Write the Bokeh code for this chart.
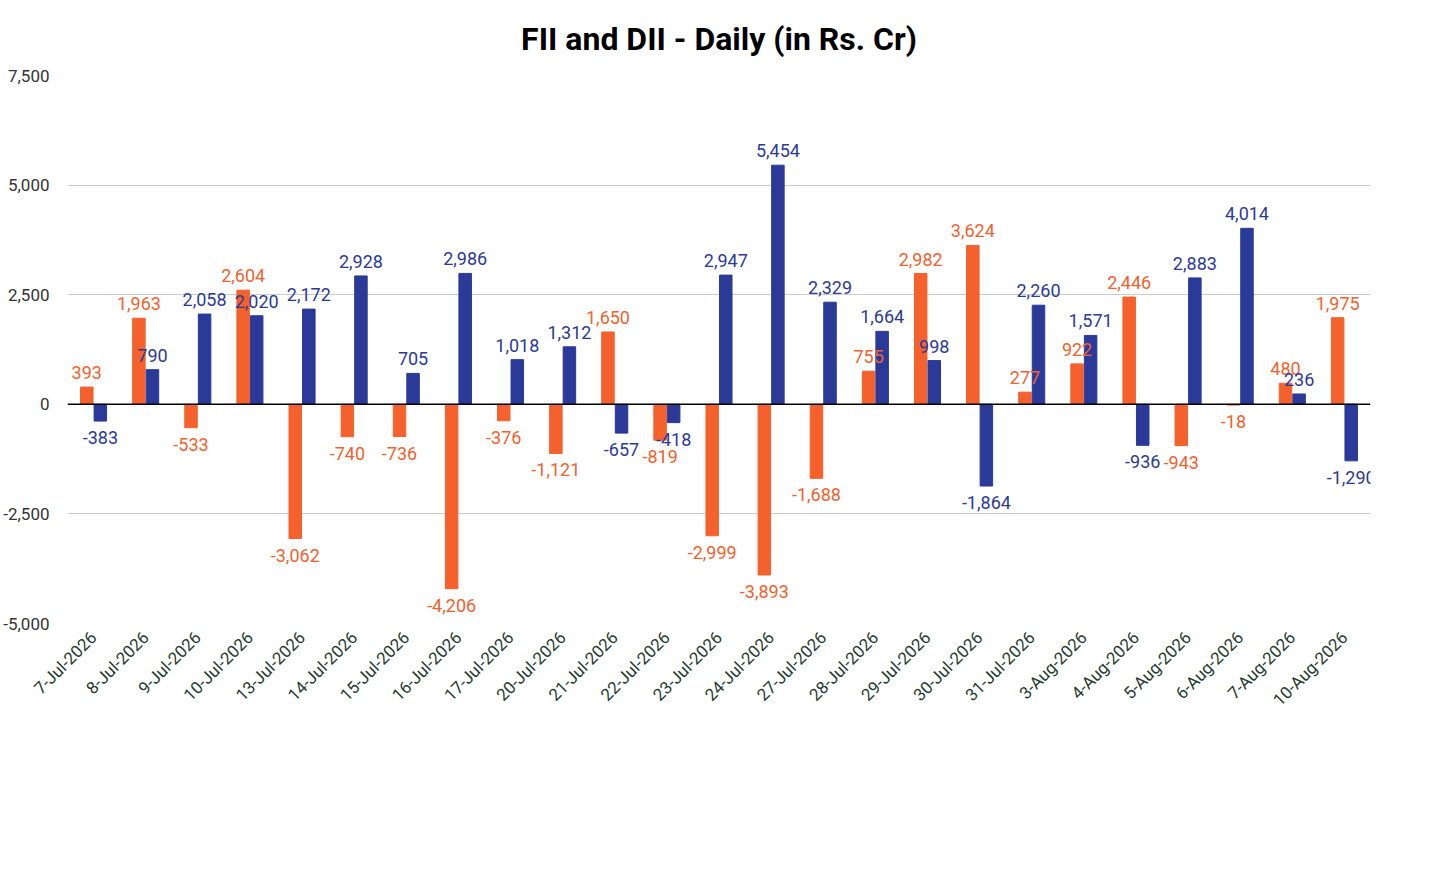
from bokeh.plotting import figure
from bokeh.models import ColumnDataSource, FactorRange, NumeralTickFormatter, Span, Legend, LegendItem, Range1d
from bokeh.transform import dodge
from bokeh.core.properties import value
from bokeh.embed import file_html
from bokeh.resources import INLINE
import math

dates = ["7-Jul-2026","8-Jul-2026","9-Jul-2026","10-Jul-2026","13-Jul-2026","14-Jul-2026","15-Jul-2026",
         "16-Jul-2026","17-Jul-2026","20-Jul-2026","21-Jul-2026","22-Jul-2026","23-Jul-2026","24-Jul-2026",
         "27-Jul-2026","28-Jul-2026","29-Jul-2026","30-Jul-2026","31-Jul-2026","3-Aug-2026","4-Aug-2026",
         "5-Aug-2026","6-Aug-2026","7-Aug-2026","10-Aug-2026"]
fii = [393,1963,-533,2604,-3062,-740,-736,-4206,-376,-1121,1650,-819,-2999,-3893,-1688,755,2982,3624,277,922,2446,-943,-18,480,1975]
dii = [-383,790,2058,2020,2172,2928,705,2986,1018,1312,-657,-418,2947,5454,2329,1664,998,-1864,2260,1571,-936,2883,4014,236,-1290]

FC = "#F4612C"
DC = "#2B3A99"

def src(vals):
    return ColumnDataSource(dict(
        date=dates, v=vals,
        lab=[f"{x:,}" for x in vals],
        off=[-8 if x >= 0 else 10 for x in vals],
        base=["bottom" if x >= 0 else "top" for x in vals]))

sf, sd = src(fii), src(dii)

p = figure(frame_width=1303, frame_height=548, x_range=FactorRange(*dates), y_range=Range1d(-5000, 7500),
           output_backend="svg", toolbar_location=None,
           min_border_left=40, min_border_right=35, min_border_top=20, min_border_bottom=10)
p.title.text = "FII and DII - Daily (in Rs. Cr)"
p.title.align = "center"
p.title.text_font = "Roboto"
p.title.text_font_size = "32px"
p.title.text_font_style = "bold"
p.title.text_color = "#000000"
p.title.standoff = 35

r1 = p.vbar(x=dodge("date", -0.13, range=p.x_range), top="v", width=0.24, source=sf, color=FC)
r2 = p.vbar(x=dodge("date", 0.13, range=p.x_range), top="v", width=0.24, source=sd, color=DC)
for s, c, d in ((sf, FC, -0.13), (sd, DC, 0.13)):
    p.text(x=dodge("date", d, range=p.x_range), y="v", text="lab", y_offset="off", text_baseline="base",
           text_align="center", text_color=c, text_font=value("Roboto"), text_font_size="18px", source=s)

p.add_layout(Span(location=0, dimension="width", line_color="black", line_width=1.5))
p.yaxis.ticker = [-5000, -2500, 0, 2500, 5000, 7500]
p.yaxis.formatter = NumeralTickFormatter(format="0,0")
p.yaxis.major_label_text_font_size = "17px"
p.yaxis.major_label_text_color = "#333333"
p.yaxis.major_label_standoff = 12
p.xaxis.major_label_orientation = math.pi / 4
p.xaxis.major_label_text_font_size = "17px"
p.xaxis.major_label_text_color = "#1f3b2f"
for ax in (p.xaxis, p.yaxis):
    ax.axis_line_color = None
    ax.major_tick_line_color = None
    ax.minor_tick_line_color = None
    ax.major_label_text_font = "Roboto"
p.xgrid.grid_line_color = None
p.ygrid.grid_line_color = "#cccccc"
p.outline_line_color = None

leg = Legend(items=[LegendItem(label="FII", renderers=[r1]), LegendItem(label="DII", renderers=[r2])],
             orientation="horizontal", location="center", label_text_font="Roboto",
             label_text_font_size="28px", border_line_color=None, glyph_width=20, glyph_height=20,
             spacing=25, margin=15)
p.add_layout(leg, "below")

open("out.html", "w").write(file_html(p, INLINE))
